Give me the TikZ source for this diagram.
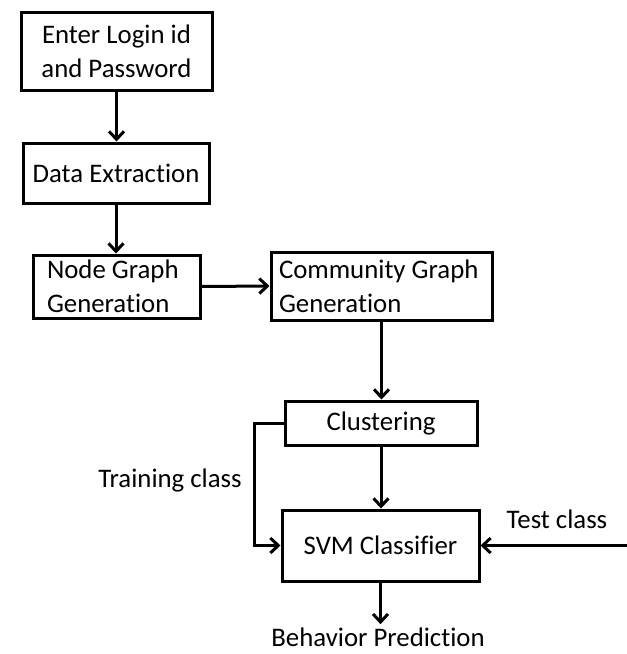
\documentclass[tikz,border=0pt]{standalone}
\usepackage{fontspec}
\setmainfont{Carlito}[Ligatures=NoCommon]
\usetikzlibrary{arrows.meta}
\begin{document}
\begin{tikzpicture}[x=1pt,y=-1pt,
  every node/.style={font=\fontsize{26.8}{34}\selectfont},
  stepbox/.style={draw, line width=3pt, inner sep=0pt, align=center},
  leftbox/.style={draw, line width=3pt, inner ysep=0pt, align=flush left},
  flow/.style={line width=3pt, -{Straight Barb[length=8pt,width=15pt,line width=3pt]}},
  tag/.style={inner sep=0pt, anchor=base}]
\useasboundingbox (0,0) rectangle (627,654);

% process boxes
\node[stepbox, minimum width=191pt, minimum height=78pt] (login) at (116.5,51) {Enter Login id\\and Password};
\node[stepbox, minimum width=186pt, minimum height=60pt] (extract) at (116,173) {Data Extraction};
\node[leftbox, inner xsep=14pt, text width=139pt, minimum height=63pt] (nodegraph) at (116.5,286.5) {Node Graph\\Generation};
\node[leftbox, inner xsep=8pt, text width=205pt, minimum height=68pt] (community) at (381.5,286) {Community Graph\\Generation};
\node[stepbox, minimum width=192pt, minimum height=44pt] (cluster) at (381,423) {Clustering};
\node[stepbox, minimum width=197pt, minimum height=71pt] (svm) at (380.5,545.5) {SVM Classifier};

% free labels
\node[tag] (train) at (170,487) {Training class};
\node[tag] (test) at (557,528) {Test class};
\node[tag, inner ysep=3pt] (predict) at (378,646) {Behavior Prediction};
\coordinate (testin) at (627,545.5);

% connectors
\draw[flow] (login.south) -- (login.south |- extract.north);
\draw[flow] (extract.south) -- (extract.south |- nodegraph.north);
\draw[flow] (nodegraph.east) -- (community.west);
\draw[flow] (community.south) -- (community.south |- cluster.north);
\draw[flow] (cluster.south) -- (cluster.south |- svm.north);
\draw[flow] (cluster.west) -- ++(-29,0) |- (svm.west);
\draw[flow] (testin) -- (svm.east);
\draw[flow] (svm.south) -- (svm.south |- predict.north);
\end{tikzpicture}
\end{document}
